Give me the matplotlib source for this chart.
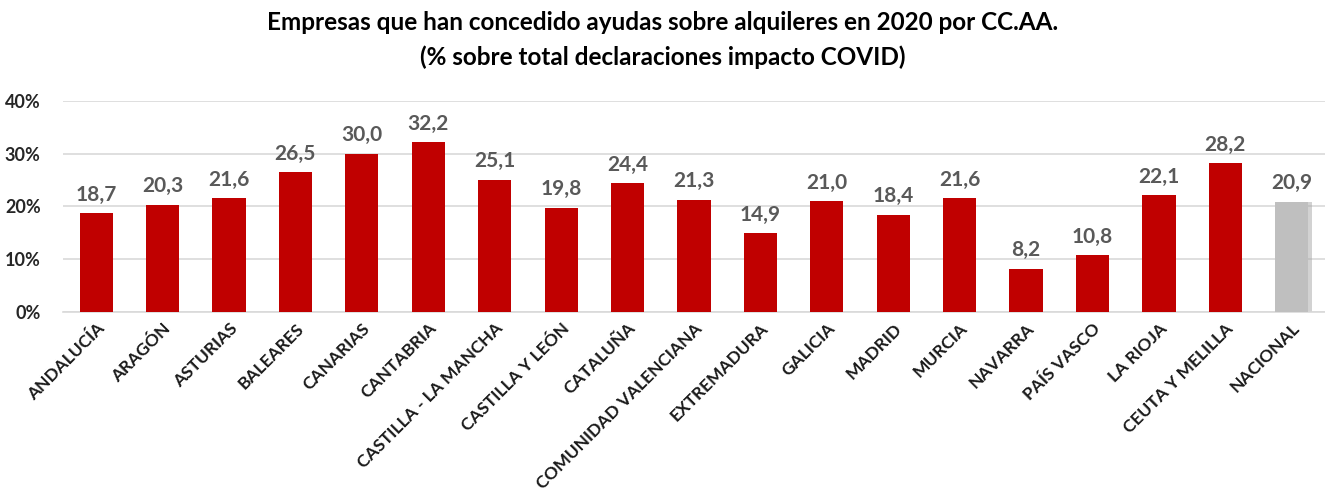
import numpy as np
import matplotlib
matplotlib.use("Agg")
import matplotlib.pyplot as plt

plt.rcParams["font.family"] = ["Lato", "DejaVu Sans"]

regions = [
    "ANDALUCÍA", "ARAGÓN", "ASTURIAS", "BALEARES", "CANARIAS", "CANTABRIA",
    "CASTILLA - LA MANCHA", "CASTILLA Y LEÓN", "CATALUÑA", "COMUNIDAD VALENCIANA",
    "EXTREMADURA", "GALICIA", "MADRID", "MURCIA", "NAVARRA", "PAÍS VASCO",
    "LA RIOJA", "CEUTA Y MELILLA", "NACIONAL",
]
values = [18.7, 20.3, 21.6, 26.5, 30.0, 32.2, 25.1, 19.8, 24.4, 21.3,
          14.9, 21.0, 18.4, 21.6, 8.2, 10.8, 22.1, 28.2, 20.9]
yticks = [0, 10, 20, 30, 40]

colors = ["#C00000"] * (len(regions) - 1) + ["#BFBFBF"]

fig = plt.figure(figsize=(13.25, 4.99), dpi=100)
ax = fig.add_axes([0.0475, 0.375, 0.9525, 0.4225])

x = np.arange(len(regions))
# soft shadow behind the national bar
ax.bar(x[-1] + 0.06, values[-1], width=0.5, color="#A6A6A6", alpha=0.5, zorder=2)
bars = ax.bar(x, values, width=0.5, color=colors, zorder=3)

for xi, v in zip(x, values):
    ax.text(xi, v + 1.6, f"{v:.1f}".replace(".", ","), ha="center", va="bottom",
            fontsize=15, fontweight="bold", color="#595959")

ax.set_xlim(-0.5, len(regions) - 0.5)
ax.set_ylim(0, 40)
ax.set_yticks(yticks)
ax.set_yticklabels([f"{t}%" for t in yticks], fontsize=13, fontweight="bold", color="#262626")
ax.set_xticks(x)
ax.set_xticklabels(regions, rotation=45, ha="right", rotation_mode="anchor",
                   fontsize=12.5, fontweight="bold", color="#1a1a1a")
ax.tick_params(axis="both", length=0)
ax.tick_params(axis="y", pad=16)
ax.tick_params(axis="x", pad=6)

ax.grid(axis="y", color="#D9D9D9", linewidth=1.2, zorder=0)
for s in ["top", "right", "left"]:
    ax.spines[s].set_visible(False)
ax.spines["bottom"].set_color("#D9D9D9")
ax.spines["bottom"].set_linewidth(1.2)

fig.text(0.5, 0.955, "Empresas que han concedido ayudas sobre alquileres en 2020 por CC.AA.",
         ha="center", va="center", fontsize=17.5, fontweight="bold")
fig.text(0.5, 0.885, "(% sobre total declaraciones impacto COVID)",
         ha="center", va="center", fontsize=17.5, fontweight="bold")

fig.savefig("out.png", dpi=100)
